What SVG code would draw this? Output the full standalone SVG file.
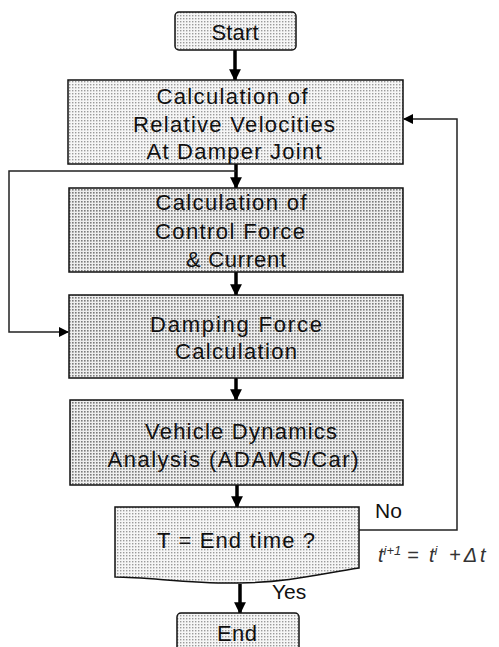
<svg xmlns="http://www.w3.org/2000/svg" width="499" height="647" viewBox="0 0 499 647">
<defs>
<pattern id="dotsL" width="3" height="3" patternUnits="userSpaceOnUse"><rect width="3" height="3" fill="#f6f6f6"/><rect width="1.4" height="1.4" fill="#9a9a9a"/></pattern>
<pattern id="dotsD" width="3" height="3" patternUnits="userSpaceOnUse"><rect width="3" height="3" fill="#eeeeee"/><rect width="1.6" height="1.6" fill="#7a7a7a"/></pattern>
<marker id="ah" viewBox="0 0 10 10" refX="9" refY="5" markerWidth="11" markerHeight="10" markerUnits="userSpaceOnUse" orient="auto"><path d="M0,0 L10,5 L0,10 z" fill="#000"/></marker>
<marker id="ahs" viewBox="0 0 10 10" refX="9" refY="5" markerWidth="4" markerHeight="3.4" orient="auto"><path d="M0,0 L10,5 L0,10 z" fill="#000"/></marker>
</defs>
<style>
.box{stroke:#111;stroke-width:1.5}
.t{font-family:"Liberation Sans",Arial,sans-serif;font-size:22px;fill:#111;text-anchor:middle}
.lbl{font-family:"Liberation Sans",Arial,sans-serif;font-size:21px;fill:#111}
.main{stroke:#000;stroke-width:3.5;fill:none}
.loop{stroke:#222;stroke-width:1.5;fill:none}
.f{font-family:"Liberation Sans",Arial,sans-serif;font-style:italic;font-size:20px;fill:#333}
</style>
<g id="connectors">
<line class="main" x1="235" y1="50" x2="235" y2="80" marker-end="url(#ahs)"/>
<line class="main" x1="236" y1="164" x2="236" y2="188" marker-end="url(#ahs)"/>
<line class="main" x1="236" y1="272" x2="236" y2="295" marker-end="url(#ahs)"/>
<line class="main" x1="236" y1="378" x2="236" y2="400" marker-end="url(#ahs)"/>
<line class="main" x1="237" y1="485" x2="237" y2="507" marker-end="url(#ahs)"/>
<line class="main" x1="240" y1="584" x2="240" y2="613" marker-end="url(#ahs)"/>
<polyline class="loop" points="236,171 9,171 9,332 68,332" marker-end="url(#ah)"/>
<polyline class="loop" points="359,530 457,530 457,119 404,119" marker-end="url(#ah)"/>
</g>
<g id="start">
<rect class="box" x="175" y="12" width="121" height="38" rx="4" fill="url(#dotsL)"/>
<text class="t" x="235" y="40" textLength="47">Start</text>
</g>
<g id="relvel">
<rect class="box" x="68" y="80" width="335" height="84" fill="url(#dotsL)"/>
<text class="t" x="232" y="104" textLength="151">Calculation of</text>
<text class="t" x="234" y="132" textLength="202">Relative Velocities</text>
<text class="t" x="234" y="159" textLength="175">At Damper Joint</text>
</g>
<g id="control">
<rect class="box" x="69" y="188" width="334" height="84" fill="url(#dotsD)"/>
<text class="t" x="231" y="210" textLength="151">Calculation of</text>
<text class="t" x="230" y="239" textLength="150">Control Force</text>
<text class="t" x="236" y="267" textLength="100">&amp; Current</text>
</g>
<g id="damping">
<rect class="box" x="69" y="295" width="334" height="83" fill="url(#dotsD)"/>
<text class="t" x="236" y="332" textLength="172">Damping Force</text>
<text class="t" x="236" y="359" textLength="122">Calculation</text>
</g>
<g id="vehicle">
<rect class="box" x="70" y="400" width="333" height="85" fill="url(#dotsD)"/>
<text class="t" x="241" y="439" textLength="192">Vehicle Dynamics</text>
<text class="t" x="233" y="467" textLength="251">Analysis (ADAMS/Car)</text>
</g>
<g id="decision">
<path class="box" d="M115,507 L359,507 L359,568 C320,574 290,582 240,583 C190,584 150,577 115,577 Z" fill="url(#dotsL)"/>
<text class="t" x="236" y="548" textLength="158">T = End time ?</text>
</g>
<g id="end">
<rect class="box" x="177" y="613" width="122" height="44" rx="4" fill="url(#dotsL)"/>
<text class="t" x="237" y="641" textLength="40">End</text>
</g>
<text class="lbl" x="375" y="518">No</text>
<text class="lbl" x="272" y="599">Yes</text>
<text class="f" x="378" y="562">t<tspan font-size="13" dy="-7">i+1</tspan><tspan x="407" dy="7">=</tspan><tspan x="429">t</tspan><tspan font-size="13" dy="-7">i</tspan><tspan x="449" dy="7" letter-spacing="3">+Δt</tspan></text>
</svg>
